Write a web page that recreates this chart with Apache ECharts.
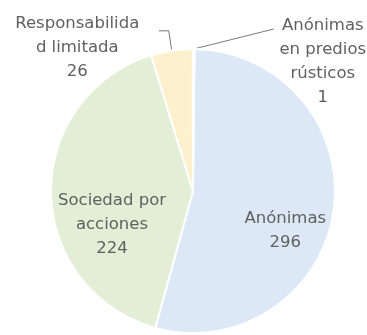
<!DOCTYPE html>
<html>
<head>
<meta charset="utf-8">
<script src="https://cdn.jsdelivr.net/npm/echarts@6/dist/echarts.min.js"></script>
<style>html,body{margin:0;padding:0;background:#fff;}#c{width:367px;height:335px;}</style>
</head>
<body>
<div id="c"></div>
<script>
const categories = ['Anónimas', 'Sociedad por acciones', 'Responsabilidad limitada', 'Anónimas en predios rústicos'];
const labelLines = [['Anónimas'], ['Sociedad por', 'acciones'], ['Responsabilida', 'd limitada'], ['Anónimas', 'en predios', 'rústicos']];
const values = [296, 224, 26, 1];
const colors = ['#dce8f5', '#e3eed7', '#fdf0cc', '#f9dfc9'];

const chart = echarts.init(document.getElementById('c'), null, {renderer: 'canvas'});
const textColor = '#606060';
const font = 'DejaVu Sans';
const fontSize = 16.5;

const insideOffsets = [[19, 29], [-7, 33]];
const outside = {
  2: {width: 153, padTop: 34, length: 20, length2: 10, minTurn: 90},
  3: {width: 88, padTop: 65, length: 20, length2: 80, minTurn: 178}
};

const data = values.map((v, i) => {
  const item = {value: v, name: categories[i], itemStyle: {color: colors[i]}};
  const lines = labelLines[i].concat([String(v)]);
  if (i < 2) {
    item.label = {position: 'inside', offset: insideOffsets[i], formatter: lines.join('\n')};
    item.labelLine = {show: false};
  } else {
    const o = outside[i];
    item.label = {
      show: true,
      position: 'outside',
      overflow: 'none',
      bleedMargin: 0,
      padding: [o.padTop, 0, 0, 0],
      formatter: lines.map(s => '{t|' + s + '}').join('\n'),
      rich: {t: {width: o.width, align: 'center', color: textColor, fontFamily: font, fontSize: fontSize, lineHeight: 24}}
    };
    item.labelLine = {show: true, length: o.length, length2: o.length2, minTurnAngle: o.minTurn, maxSurfaceAngle: 180};
  }
  return item;
});

chart.setOption({
  animation: false,
  series: [{
    type: 'pie',
    center: [193, 191],
    radius: 142,
    startAngle: 89.4,
    clockwise: true,
    minShowLabelAngle: 0,
    avoidLabelOverlap: false,
    labelLayout: {hideOverlap: false},
    itemStyle: {borderColor: '#ffffff', borderWidth: 2},
    label: {
      color: textColor,
      fontFamily: font,
      fontSize: fontSize,
      lineHeight: 24,
      align: 'center'
    },
    labelLine: {lineStyle: {color: '#7a7a7a', width: 1}},
    data: data
  }]
});
</script>
</body>
</html>
